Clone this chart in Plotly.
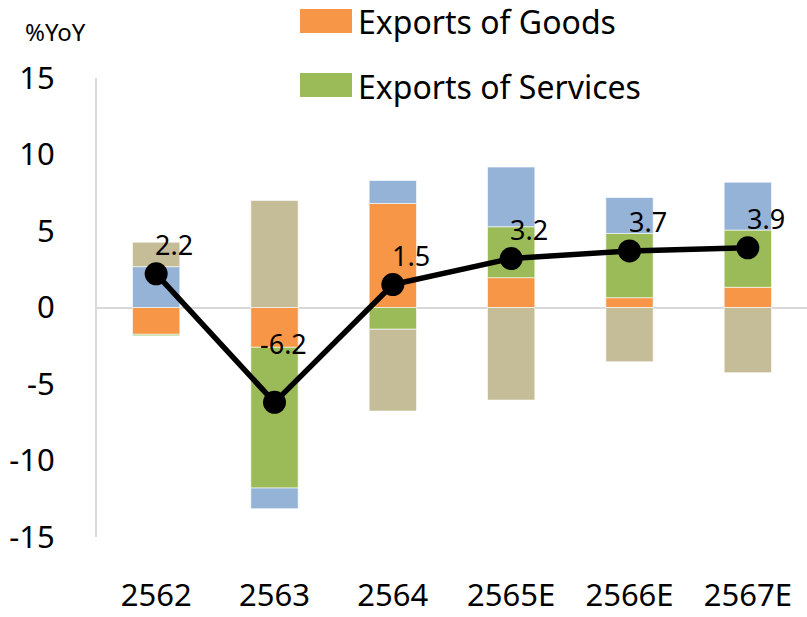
import plotly.graph_objects as go

# Contribution to growth (%YoY) by component
years = ["2562", "2563", "2564", "2565E", "2566E", "2567E"]
goods_exports = [-1.75, -2.6, 6.8, 1.95, 0.64, 1.32]
services_exports = [-0.1, -9.2, -1.42, 3.33, 4.2, 3.74]
goods_imports = [2.67, -1.35, 1.5, 3.9, 2.35, 3.13]
services_imports = [1.6, 7.0, -5.35, -6.05, -3.54, -4.26]
total_growth = [2.2, -6.2, 1.5, 3.2, 3.7, 3.9]
y_ticks = [-15, -10, -5, 0, 5, 10, 15]

FONT = "Noto Sans"
W, H = 807, 617
M_L, M_R, M_T, M_B = 97, 0, 78, 80


def px_x(p):
    return (p - M_L) / (W - M_L - M_R)


def px_y(p):
    return (H - M_B - p) / (H - M_T - M_B)


series = [
    ("Exports of Goods", goods_exports, "#F79646"),
    ("Exports of Services", services_exports, "#9BBB59"),
    ("Imports of Goods", goods_imports, "#95B3D7"),
    ("Imports of Services", services_imports, "#C4BD97"),
]

fig = go.Figure()
for name, vals, color in series:
    fig.add_trace(go.Bar(
        x=years, y=vals, name=name, showlegend=False,
        marker=dict(color=color, line=dict(color="rgba(255,255,255,0.6)", width=1)),
    ))

fig.add_trace(go.Scatter(
    x=years, y=total_growth, mode="lines+markers", name="Total",
    showlegend=False,
    line=dict(color="black", width=5.5),
    marker=dict(color="black", size=23),
))

# value labels next to the total line (x given as category index)
label_shift = {1: dict(xanchor="center", xshift=9, yshift=38)}
for i, v in enumerate(total_growth):
    opts = label_shift.get(i, dict(xanchor="left", xshift=-3, yshift=9))
    fig.add_annotation(
        x=i, y=v, text=f"{v:.1f}", showarrow=False, yanchor="bottom",
        font=dict(family=FONT, size=27, color="black"), **opts,
    )

# legend drawn as swatches + labels
legend_rows = [(9, 33, 21), (73, 97, 86)]
for (name, _, color), (top, bot, mid) in zip(series[:2], legend_rows):
    fig.add_shape(type="rect", xref="paper", yref="paper",
                  x0=px_x(300), x1=px_x(352), y0=px_y(bot), y1=px_y(top),
                  fillcolor=color, line=dict(width=0))
    fig.add_annotation(xref="paper", yref="paper", x=px_x(356), y=px_y(mid),
                       text=name, showarrow=False, xanchor="left", yanchor="middle",
                       font=dict(family=FONT, size=32, color="black"))

fig.add_annotation(xref="paper", yref="paper", x=px_x(23), y=px_y(31),
                   text="%YoY", showarrow=False, xanchor="left", yanchor="middle",
                   font=dict(family=FONT, size=24, color="black"))

fig.update_layout(
    width=W, height=H,
    margin=dict(l=M_L, r=M_R, t=M_T, b=M_B),
    barmode="relative", bargap=0.6,
    plot_bgcolor="white", paper_bgcolor="white",
    font=dict(family=FONT, color="black"),
)
fig.update_xaxes(
    type="category", range=[-0.5, len(years) - 0.5],
    showgrid=False, showline=False, ticks="",
    tickfont=dict(family=FONT, size=31, color="black"),
    ticklabelstandoff=37,
)
fig.update_yaxes(
    range=[-15, 15], tickvals=y_ticks, ticktext=[str(t) for t in y_ticks],
    showgrid=False,
    showline=True, linecolor="#D9D9D9", linewidth=2,
    zeroline=True, zerolinecolor="#D9D9D9", zerolinewidth=2,
    ticks="", ticklabelstandoff=34,
    tickfont=dict(family=FONT, size=31, color="black"),
)

fig.write_html("out.html")
